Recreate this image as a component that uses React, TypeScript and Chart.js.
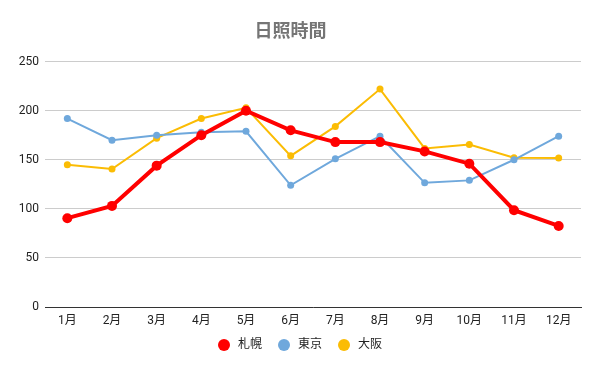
import React, { useEffect, useRef } from "react";
import { Chart, registerables } from "chart.js";

Chart.register(...registerables);

const categories = ["1月", "2月", "3月", "4月", "5月", "6月", "7月", "8月", "9月", "10月", "11月", "12月"];
const sapporo = [90.5, 103, 144, 175, 200, 180, 168, 168, 158.5, 146, 98.6, 82.6];
const tokyo = [192, 170, 175, 178, 179, 124, 151, 174, 126.5, 129, 150, 174];
const osaka = [145, 140.5, 172, 192, 203, 154, 184, 222, 161.5, 165.6, 152, 151.7];
const yTicks = [0, 50, 100, 150, 200, 250];

const FONT = "Roboto, 'Noto Sans CJK JP', sans-serif";

const legendPlugin = {
  id: "customLegend",
  afterDraw(chart: any) {
    const ctx = chart.ctx as CanvasRenderingContext2D;
    const ds = chart.data.datasets;
    ctx.save();
    ctx.font = `12px ${FONT}`;
    ctx.textBaseline = "middle";
    ctx.textAlign = "left";
    const r = 6;
    const gapText = 8;
    const gapItem = 16;
    const widths = ds.map((d: any) => 2 * r + gapText + ctx.measureText(d.label).width);
    const total = widths.reduce((a: number, b: number) => a + b, 0) + gapItem * (ds.length - 1);
    let x = chart.width / 2 - total / 2;
    const y = 345;
    ds.forEach((d: any, i: number) => {
      ctx.fillStyle = d.borderColor;
      ctx.beginPath();
      ctx.arc(x + r, y, r, 0, Math.PI * 2);
      ctx.fill();
      ctx.fillStyle = "#222";
      ctx.fillText(d.label, x + 2 * r + gapText, y);
      x += widths[i] + gapItem;
    });
    ctx.restore();
  },
};

export default function App() {
  const ref = useRef<HTMLCanvasElement>(null);
  useEffect(() => {
    document.body.style.margin = "0";
    const chart = new Chart(ref.current!, {
      type: "line",
      data: {
        labels: categories,
        datasets: [
          {
            label: "札幌",
            data: sapporo,
            borderColor: "#ff0000",
            backgroundColor: "#ff0000",
            borderWidth: 4,
            pointRadius: 5,
            pointBorderWidth: 0,
            order: 0,
          },
          {
            label: "東京",
            data: tokyo,
            borderColor: "#6fa8dc",
            backgroundColor: "#6fa8dc",
            borderWidth: 2,
            pointRadius: 3.5,
            pointBorderWidth: 0,
            order: 1,
          },
          {
            label: "大阪",
            data: osaka,
            borderColor: "#fbbc04",
            backgroundColor: "#fbbc04",
            borderWidth: 2,
            pointRadius: 3.5,
            pointBorderWidth: 0,
            order: 2,
          },
        ],
      },
      plugins: [legendPlugin],
      options: {
        animation: false,
        responsive: false,
        layout: { padding: { left: 0, right: 19, top: 0, bottom: 40 } },
        plugins: {
          title: {
            display: true,
            text: "日照時間",
            color: "#757575",
            font: { family: FONT, size: 18, weight: "bold" },
            padding: { top: 22, bottom: 18 },
          },
          legend: { display: false },
          tooltip: { enabled: false },
        },
        scales: {
          x: {
            offset: true,
            grid: { display: false, drawTicks: false },
            border: { display: true, color: "#333", width: 1 },
            ticks: { color: "#222", font: { family: FONT, size: 12 }, padding: 7, maxRotation: 0 },
            afterFit: (axis: any) => {
              axis.height = 24;
            },
          },
          y: {
            min: 0,
            max: 250,
            afterBuildTicks: (axis: any) => {
              axis.ticks = yTicks.map((v) => ({ value: v }));
            },
            afterFit: (axis: any) => {
              axis.width = 45;
            },
            grid: { color: "#cccccc", drawTicks: false },
            border: { display: false },
            ticks: { color: "#222", font: { family: FONT, size: 12 }, padding: 6 },
          },
        },
      },
    });
    return () => chart.destroy();
  }, []);
  return <canvas ref={ref} width={600} height={371} style={{ display: "block" }} />;
}
